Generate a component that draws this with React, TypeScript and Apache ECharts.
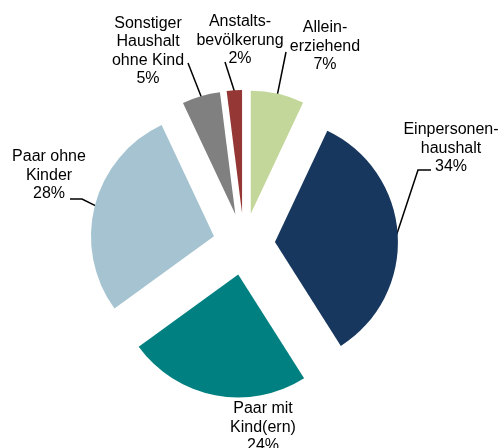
import React, { useEffect, useRef } from "react";
import * as echarts from "echarts";

const categories = [
  "Allein-\nerziehend",
  "Einpersonen-\nhaushalt",
  "Paar mit\nKind(ern)",
  "Paar ohne\nKinder",
  "Sonstiger\nHaushalt\nohne Kind",
  "Anstalts-\nbevölkerung",
];
const shares = [7, 34, 24, 28, 5, 2];
const colors = ["#c4d79b", "#17375e", "#008080", "#a5c3d0", "#808080", "#953735"];

// layout only: pie geometry, label block centres and leader-line elbows
const CX = 244;
const CY = 244;
const R = 123;
const OFFSET = 31;
const labelCenters: number[][] = [
  [325, 45],
  [451, 147],
  [263, 426],
  [49, 174],
  [148, 50],
  [240, 39],
];
const leaderBends: number[][][] = [
  [[286, 52]],
  [[418, 170], [431, 170]],
  [],
  [[82, 199], [70, 199]],
  [[188, 63]],
  [[225, 62]],
];

export default function App() {
  const ref = useRef<HTMLDivElement>(null);
  useEffect(() => {
    if (!ref.current) return;
    const chart = echarts.init(ref.current, undefined, { renderer: "svg" });
    const total = shares.reduce((a, b) => a + b, 0);
    const renderLabel = (params: any, api: any) => {
      const i = params.dataIndex;
      const value = api.value(1);
      let before = 0;
      for (let k = 0; k < i; k++) before += shares[k];
      const mid = ((before + value / 2) / total) * Math.PI * 2;
      const dirX = Math.sin(mid);
      const dirY = -Math.cos(mid);
      const start = [CX + (OFFSET + R - 1) * dirX, CY + (OFFSET + R - 1) * dirY];
      const children: any[] = [];
      const bends = leaderBends[i];
      if (bends.length) {
        children.push({
          type: "polyline",
          shape: { points: [start, ...bends] },
          style: { stroke: "#000", lineWidth: 1.5, fill: null },
        });
      }
      children.push({
        type: "text",
        x: labelCenters[i][0],
        y: labelCenters[i][1],
        style: {
          text: categories[i] + "\n" + value + "%",
          align: "center",
          verticalAlign: "middle",
          fontFamily: "Liberation Sans, Arial, sans-serif",
          fontSize: 16,
          lineHeight: 18.5,
          fill: "#000",
        },
      });
      return { type: "group", children };
    };
    chart.setOption({
      animation: false,
      series: [
        {
          type: "pie",
          center: [CX, CY],
          radius: R,
          startAngle: 90,
          clockwise: true,
          selectedMode: "multiple",
          selectedOffset: OFFSET,
          emphasis: { disabled: true },
          label: { show: false },
          labelLine: { show: false },
          data: categories.map((name, i) => ({
            name,
            value: shares[i],
            selected: true,
            itemStyle: { color: colors[i] },
          })),
        },
        {
          type: "custom",
          coordinateSystem: "none",
          silent: true,
          renderItem: renderLabel,
          data: shares.map((v, i) => [i, v]),
        },
      ],
    });
    return () => chart.dispose();
  }, []);
  return (
    <div
      ref={ref}
      style={{ position: "fixed", left: 0, top: 0, width: 499, height: 448 }}
    />
  );
}
